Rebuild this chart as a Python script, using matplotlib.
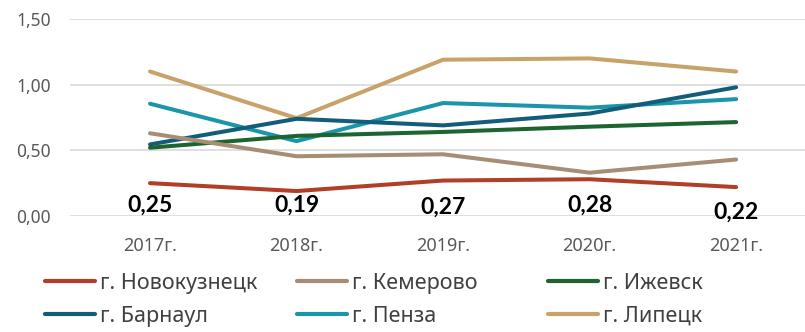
import matplotlib.pyplot as plt
from matplotlib.lines import Line2D

plt.rcParams['font.family'] = ['Noto Sans', 'DejaVu Sans']

years = ['2017г.', '2018г.', '2019г.', '2020г.', '2021г.']
novokuznetsk = [0.25, 0.19, 0.27, 0.28, 0.22]
kemerovo = [0.63, 0.455, 0.47, 0.33, 0.43]
izhevsk = [0.52, 0.61, 0.64, 0.68, 0.715]
barnaul = [0.545, 0.74, 0.69, 0.78, 0.98]
penza = [0.855, 0.57, 0.86, 0.825, 0.89]
lipetsk = [1.10, 0.745, 1.19, 1.20, 1.10]

series = [
    ('г. Новокузнецк', novokuznetsk, '#B23E27'),
    ('г. Кемерово', kemerovo, '#A88D76'),
    ('г. Ижевск', izhevsk, '#1C6530'),
    ('г. Барнаул', barnaul, '#125E7A'),
    ('г. Пенза', penza, '#1A95AA'),
    ('г. Липецк', lipetsk, '#C9A26A'),
]

fig = plt.figure(figsize=(8.05, 3.32), dpi=100)
ax = fig.add_axes([70 / 805, 1 - 216 / 332, 735 / 805, 197 / 332])

x = list(range(len(years)))
handles = {}
# draw bottom series last so it sits on top
for name, vals, color in reversed(series):
    ln, = ax.plot(x, vals, color=color, lw=2.9, solid_capstyle='round',
                  solid_joinstyle='round', clip_on=False)
    handles[name] = ln

# value labels for Новокузнецк, shifted below the line (px)
label_dy = [-22, -14, -27, -26, -25]
for xi, v, dy in zip(x, novokuznetsk, label_dy):
    ax.annotate(f'{v:.2f}'.replace('.', ','), (xi, v),
                xytext=(0, dy * 0.72), textcoords='offset points',
                ha='center', va='center', fontsize=16.5, fontweight='bold',
                family=['Lato', 'DejaVu Sans'], color='black')

ax.set_xlim(-0.546, 4.47)
ax.set_ylim(0, 1.5)
ax.set_yticks([0, 0.5, 1.0, 1.5])
ax.set_yticklabels(['0,00', '0,50', '1,00', '1,50'])
ax.set_xticks(x)
ax.set_xticklabels(years)
ax.tick_params(axis='y', length=0, pad=14, labelsize=12.5, labelcolor='#595959')
ax.tick_params(axis='x', length=0, pad=15, labelsize=13, labelcolor='#595959')
ax.grid(axis='y', color='#D9D9D9', lw=1.2)
ax.set_axisbelow(True)
for sp in ax.spines.values():
    sp.set_visible(False)

# three legend columns, one legend each, evenly spaced
cols = [['г. Новокузнецк', 'г. Барнаул'],
        ['г. Кемерово', 'г. Пенза'],
        ['г. Ижевск', 'г. Липецк']]
col_x = [45, 297, 548]
for cx, names in zip(col_x, cols):
    leg = fig.legend([Line2D([], [], color=handles[n].get_color(), lw=3.0,
                             solid_capstyle='round') for n in names],
                     names, loc='upper left',
                     bbox_to_anchor=(cx / 805, 1 - 273 / 332),
                     frameon=False, fontsize=15.5, handlelength=2.3,
                     handletextpad=0.25, labelspacing=0.55,
                     borderaxespad=0, borderpad=0)
    for t in leg.get_texts():
        t.set_color('#404040')

fig.savefig('out.png', dpi=100)
